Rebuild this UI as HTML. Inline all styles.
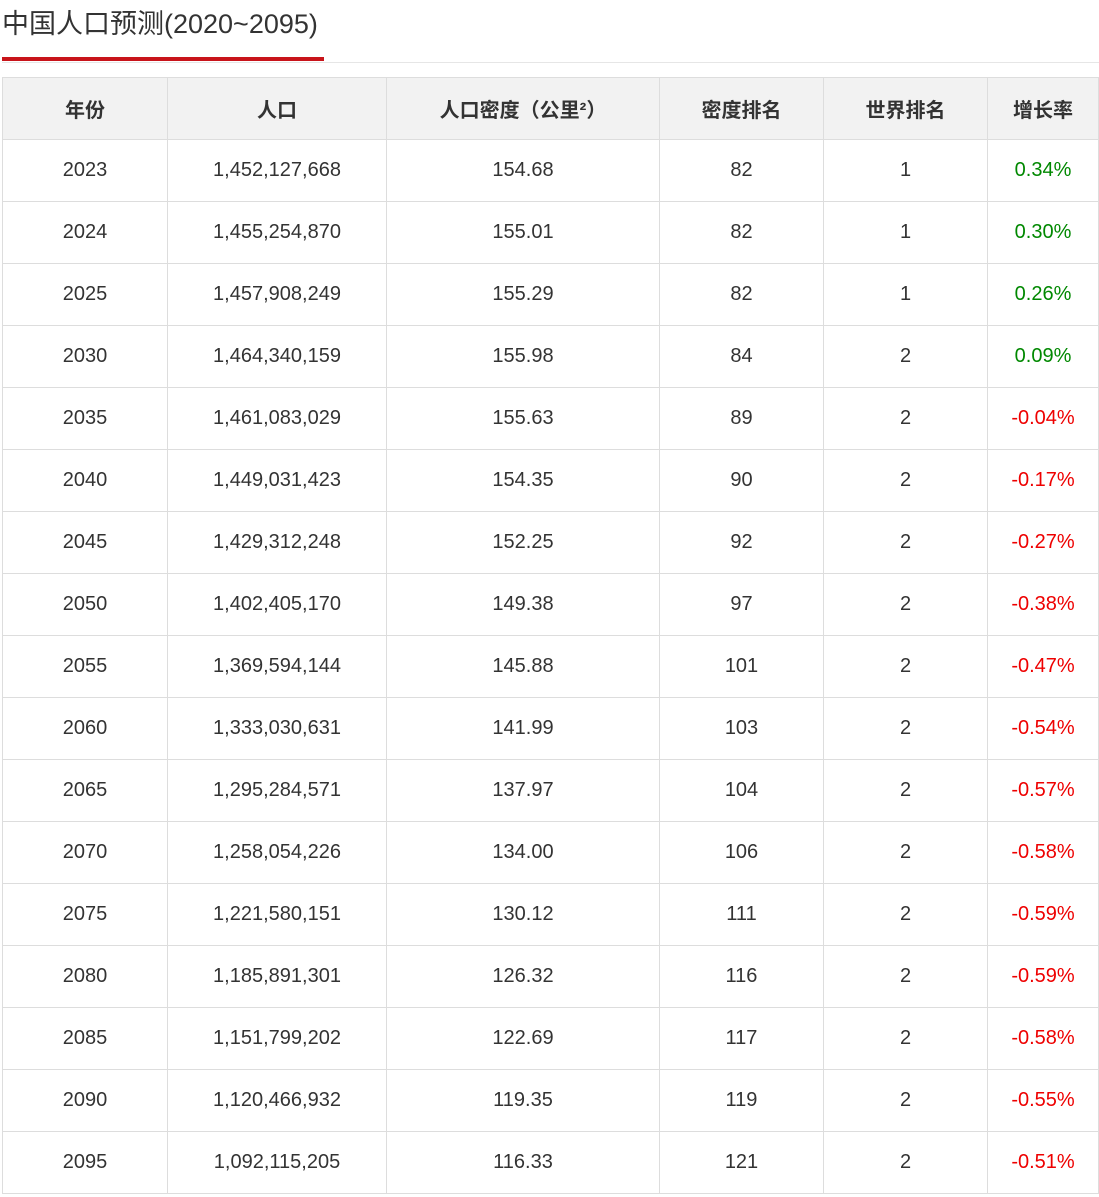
<!DOCTYPE html>
<html><head><meta charset="utf-8"><style>
body{margin:0;background:#fff;width:1099px;height:1197px;overflow:hidden;font-family:"Liberation Sans","Noto Sans CJK SC",sans-serif;color:#333}
.title{position:absolute;left:2px;top:5px;font-size:27px;line-height:38px;color:#333;white-space:nowrap}
.gl{position:absolute;left:2px;top:62px;width:1097px;height:1px;background:#e6e6e6}
.rl{position:absolute;left:2px;top:57px;width:322px;height:4px;background:#c8141a}
table{position:absolute;left:2px;top:77px;border-collapse:collapse;table-layout:fixed;width:1096px}
td,th{border:1px solid #ddd;text-align:center;height:61px;padding:0;font-size:20px}
th{background:#f2f2f2;font-weight:bold;font-size:20px;color:#333}
.g{color:#080}.r{color:#e00}
</style></head><body>
<div class="title">中国人口预测(2020~2095)</div>
<div class="gl"></div><div class="rl"></div>
<table>
<colgroup><col style="width:165px"><col style="width:219px"><col style="width:273px"><col style="width:164px"><col style="width:164px"><col style="width:111px"></colgroup>
<tr><th>年份</th><th>人口</th><th>人口密度（公里²）</th><th>密度排名</th><th>世界排名</th><th>增长率</th></tr>
<tr><td>2023</td><td>1,452,127,668</td><td>154.68</td><td>82</td><td>1</td><td class="g">0.34%</td></tr>
<tr><td>2024</td><td>1,455,254,870</td><td>155.01</td><td>82</td><td>1</td><td class="g">0.30%</td></tr>
<tr><td>2025</td><td>1,457,908,249</td><td>155.29</td><td>82</td><td>1</td><td class="g">0.26%</td></tr>
<tr><td>2030</td><td>1,464,340,159</td><td>155.98</td><td>84</td><td>2</td><td class="g">0.09%</td></tr>
<tr><td>2035</td><td>1,461,083,029</td><td>155.63</td><td>89</td><td>2</td><td class="r">-0.04%</td></tr>
<tr><td>2040</td><td>1,449,031,423</td><td>154.35</td><td>90</td><td>2</td><td class="r">-0.17%</td></tr>
<tr><td>2045</td><td>1,429,312,248</td><td>152.25</td><td>92</td><td>2</td><td class="r">-0.27%</td></tr>
<tr><td>2050</td><td>1,402,405,170</td><td>149.38</td><td>97</td><td>2</td><td class="r">-0.38%</td></tr>
<tr><td>2055</td><td>1,369,594,144</td><td>145.88</td><td>101</td><td>2</td><td class="r">-0.47%</td></tr>
<tr><td>2060</td><td>1,333,030,631</td><td>141.99</td><td>103</td><td>2</td><td class="r">-0.54%</td></tr>
<tr><td>2065</td><td>1,295,284,571</td><td>137.97</td><td>104</td><td>2</td><td class="r">-0.57%</td></tr>
<tr><td>2070</td><td>1,258,054,226</td><td>134.00</td><td>106</td><td>2</td><td class="r">-0.58%</td></tr>
<tr><td>2075</td><td>1,221,580,151</td><td>130.12</td><td>111</td><td>2</td><td class="r">-0.59%</td></tr>
<tr><td>2080</td><td>1,185,891,301</td><td>126.32</td><td>116</td><td>2</td><td class="r">-0.59%</td></tr>
<tr><td>2085</td><td>1,151,799,202</td><td>122.69</td><td>117</td><td>2</td><td class="r">-0.58%</td></tr>
<tr><td>2090</td><td>1,120,466,932</td><td>119.35</td><td>119</td><td>2</td><td class="r">-0.55%</td></tr>
<tr><td>2095</td><td>1,092,115,205</td><td>116.33</td><td>121</td><td>2</td><td class="r">-0.51%</td></tr>
</table>
</body></html>
